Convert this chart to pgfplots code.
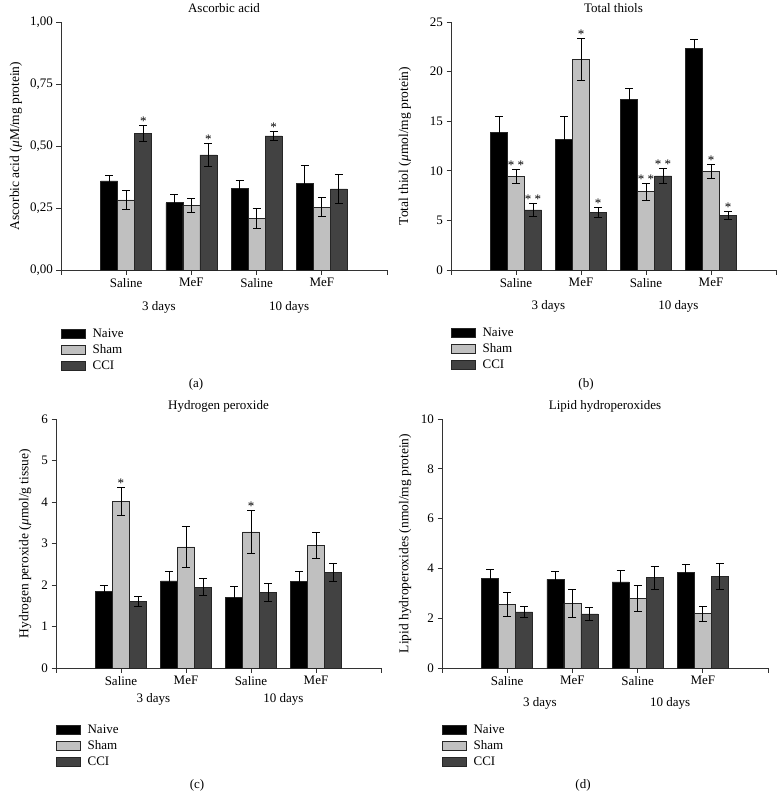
\documentclass[border=0pt]{standalone}
\usepackage{pgfplots}
\pgfplotsset{compat=1.18}
\usepackage{fontspec}
\setmainfont{Liberation Serif}
\definecolor{shamgray}{RGB}{192,192,192}
\definecolor{ccigray}{RGB}{66,66,66}
\newcommand{\fs}[1]{\fontsize{#1}{#1}\selectfont}
\pgfplotsset{
  panel/.style={
    scale only axis, clip=false,
    axis lines=left, axis line style={-, black!80, line width=0.8pt},
    xmin=0, xmax=5, xtick={0,1,2,3,4,5}, xticklabels={,Saline,MeF,Saline,MeF,},
    tick align=outside, major tick length=4.5pt,
    tick style={black!80, line width=0.8pt},
    ymin=0,
    ybar=0pt, bar width=17pt,
    /pgf/number format/assume math mode=true,
    tick label style={font=\fs{13}},
    label style={font=\fs{13.5}},
    title style={font=\fs{13}, at={(0.5,1)}, anchor=base, yshift=4pt},
    legend style={draw=none, fill=none, inner sep=0pt, outer sep=0pt, anchor=north west,
      font=\fs{13}, row sep=0pt,
      nodes={inner sep=2pt, text height=9pt, text depth=3pt},
      /tikz/every odd column/.append style={column sep=5pt}},
    legend cell align=left,
    legend image code/.code={\draw[#1, draw=black!85, line width=0.6pt] (0pt,-4.3pt) rectangle (24pt,4.3pt);},
  },
  errs/.style={error bars/.cd, y dir=both, y explicit,
    error bar style={black, line width=0.8pt},
    error mark options={rotate=90, mark size=4pt, black, line width=0.8pt}},
  naive/.style={fill=black, draw=black!85, line width=0.6pt, errs},
  sham/.style={fill=shamgray, draw=black!85, line width=0.6pt, errs},
  cci/.style={fill=ccigray, draw=black!85, line width=0.6pt, errs},
}
\tikzset{ast/.style={anchor=base, font=\fs{13}, inner sep=0pt, yshift=0pt},
  grp/.style={font=\fs{13}}}
\begin{document}
\begin{tikzpicture}[x=1pt,y=1pt]
\useasboundingbox (0,0) rectangle (784,-811);
% (a)
\begin{axis}[panel, at={(61pt,-270pt)}, anchor=south west, width=326pt, height=248pt,
  ymax=1, ytick={0,0.25,0.5,0.75,1},
  yticklabel style={/pgf/number format/.cd, fixed, fixed zerofill, precision=2, use comma},
  title={Ascorbic acid}, ylabel={Ascorbic acid (\textit{μ}M/mg protein)},
  ylabel style={at={(axis description cs:-0.138,0.5)}, anchor=center},
  legend style={at={(0,-0.226)}}]
\addplot[naive] coordinates {(1,0.359) +- (0,0.022) (2,0.271) +- (0,0.035) (3,0.330) +- (0,0.031) (4,0.350) +- (0,0.073)};
\addplot[sham] coordinates {(1,0.283) +- (0,0.038) (2,0.261) +- (0,0.028) (3,0.209) +- (0,0.040) (4,0.253) +- (0,0.038)};
\addplot[cci] coordinates {(1,0.550) +- (0,0.033) (2,0.464) +- (0,0.048) (3,0.541) +- (0,0.017) (4,0.327) +- (0,0.059)};
\legend{Naive,Sham,CCI}
\node[ast] at (axis cs:1.2615,0.583) {*};
\node[ast] at (axis cs:2.2615,0.512) {*};
\node[ast] at (axis cs:3.2615,0.558) {*};
\node[grp, yshift=-37pt] at (axis cs:1.5,0) {3 days};
\node[grp, yshift=-37pt] at (axis cs:3.5,0) {10 days};
\end{axis}
% (b)
\begin{axis}[panel, at={(451pt,-270pt)}, anchor=south west, width=325pt, height=248pt,
  ymax=25, ytick={0,5,10,15,20,25},
  title={Total thiols}, ylabel={Total thiol (\textit{μ}mol/mg protein)},
  ylabel style={at={(axis description cs:-0.1415,0.5)}, anchor=center},
  legend style={at={(0,-0.222)}}]
\addplot[naive] coordinates {(1,13.86) +- (0,1.6) (2,13.19) +- (0,2.3) (3,17.19) +- (0,1.1) (4,22.3) +- (0,0.95)};
\addplot[sham] coordinates {(1,9.42) +- (0,0.7) (2,21.2) +- (0,2.1) (3,7.91) +- (0,0.85) (4,9.96) +- (0,0.7)};
\addplot[cci] coordinates {(1,6.06) +- (0,0.65) (2,5.82) +- (0,0.5) (3,9.49) +- (0,0.75) (4,5.52) +- (0,0.38)};
\legend{Naive,Sham,CCI}
\node[ast] at (axis cs:1,10.12) {* *};
\node[ast] at (axis cs:1.2615,6.71) {* *};
\node[ast] at (axis cs:2,23.3) {*};
\node[ast] at (axis cs:2.2615,6.32) {*};
\node[ast] at (axis cs:3,8.76) {* *};
\node[ast] at (axis cs:3.2615,10.24) {* *};
\node[ast] at (axis cs:4,10.66) {*};
\node[ast] at (axis cs:4.2615,5.90) {*};
\node[grp, yshift=-36pt] at (axis cs:1.5,0) {3 days};
\node[grp, yshift=-36pt] at (axis cs:3.5,0) {10 days};
\end{axis}
% (c)
\begin{axis}[panel, at={(56pt,-668pt)}, anchor=south west, width=325pt, height=249pt,
  ymax=6, ytick={0,1,2,3,4,5,6},
  title={Hydrogen peroxide}, ylabel={Hydrogen peroxide (\textit{μ}mol/g tissue)},
  ylabel style={at={(axis description cs:-0.095,0.5)}, anchor=center},
  legend style={at={(0,-0.217)}}]
\addplot[naive] coordinates {(1,1.85) +- (0,0.14) (2,2.10) +- (0,0.22) (3,1.71) +- (0,0.26) (4,2.08) +- (0,0.24)};
\addplot[sham] coordinates {(1,4.01) +- (0,0.33) (2,2.92) +- (0,0.49) (3,3.28) +- (0,0.52) (4,2.95) +- (0,0.31)};
\addplot[cci] coordinates {(1,1.60) +- (0,0.12) (2,1.95) +- (0,0.20) (3,1.82) +- (0,0.22) (4,2.30) +- (0,0.21)};
\legend{Naive,Sham,CCI}
\node[ast] at (axis cs:1,4.34) {*};
\node[ast] at (axis cs:3,3.80) {*};
\node[grp, yshift=-31pt] at (axis cs:1.5,0) {3 days};
\node[grp, yshift=-31pt] at (axis cs:3.5,0) {10 days};
\end{axis}
% (d)
\begin{axis}[panel, at={(442pt,-668pt)}, anchor=south west, width=326pt, height=249pt,
  ymax=10, ytick={0,2,4,6,8,10},
  title={Lipid hydroperoxides}, ylabel={Lipid hydroperoxides (nmol/mg protein)},
  ylabel style={at={(axis description cs:-0.113,0.5)}, anchor=center},
  legend style={at={(0,-0.217)}}]
\addplot[naive] coordinates {(1,3.60) +- (0,0.37) (2,3.56) +- (0,0.32) (3,3.46) +- (0,0.47) (4,3.85) +- (0,0.31)};
\addplot[sham] coordinates {(1,2.55) +- (0,0.47) (2,2.60) +- (0,0.56) (3,2.80) +- (0,0.52) (4,2.18) +- (0,0.31)};
\addplot[cci] coordinates {(1,2.25) +- (0,0.21) (2,2.17) +- (0,0.25) (3,3.63) +- (0,0.46) (4,3.69) +- (0,0.52)};
\legend{Naive,Sham,CCI}
\node[grp, yshift=-35pt] at (axis cs:1.5,0) {3 days};
\node[grp, yshift=-35pt] at (axis cs:3.5,0) {10 days};
\end{axis}
\node[font=\fs{13}] at (196,-384) {(a)};
\node[font=\fs{13}] at (586,-384) {(b)};
\node[font=\fs{13}] at (197,-785) {(c)};
\node[font=\fs{13}] at (583,-785) {(d)};
\end{tikzpicture}
\end{document}
